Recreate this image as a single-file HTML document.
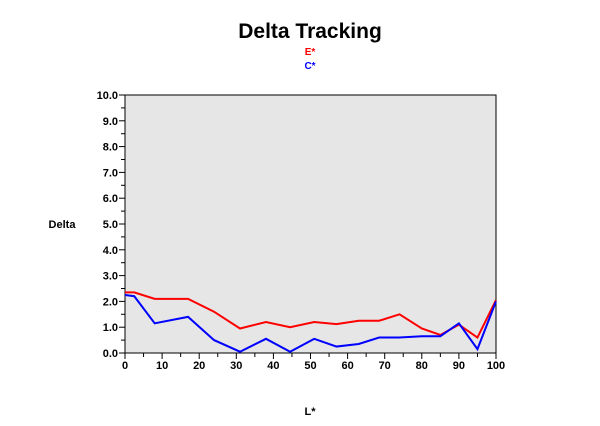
<!DOCTYPE html>
<html><head><meta charset="utf-8"><style>
body{margin:0;background:#fff;width:600px;height:421px;overflow:hidden}
svg{font-family:"Liberation Sans",Arial,sans-serif;font-weight:bold}
</style></head><body>
<svg width="600" height="421">
<text x="310" y="38" text-anchor="middle" font-size="21">Delta Tracking</text>
<text x="310" y="55" text-anchor="middle" font-size="10" fill="#ff0000">E*</text>
<text x="310" y="69" text-anchor="middle" font-size="10" fill="#0000ff">C*</text>
<rect x="125" y="95" width="371" height="258" fill="#e6e6e6" stroke="#000" stroke-width="1"/>
<g id="axes"></g>
<g id="series"></g>
<text x="62" y="228" text-anchor="middle" font-size="11">Delta</text>
<text x="310" y="415" text-anchor="middle" font-size="11">L*</text>
</svg>
<script>
const xVals=[0,2.5,8,17,24,31,38,44.5,51,57,63,68.5,74,80,85,90,95,100];
const eVals=[2.35,2.35,2.1,2.1,1.6,0.95,1.2,1.0,1.2,1.12,1.25,1.25,1.5,0.95,0.7,1.1,0.6,2.05];
const cVals=[2.25,2.2,1.15,1.4,0.5,0.05,0.55,0.05,0.55,0.25,0.35,0.6,0.6,0.65,0.65,1.15,0.15,2.0];
const yTicks=[0,1,2,3,4,5,6,7,8,9,10];
const xTicks=[0,10,20,30,40,50,60,70,80,90,100];
const NS="http://www.w3.org/2000/svg";
const X=v=>125+v*3.71, Y=v=>353-v*25.8;
const ax=document.getElementById('axes'), se=document.getElementById('series');
function mk(t,a,p){const e=document.createElementNS(NS,t);for(const k in a)e.setAttribute(k,a[k]);p.appendChild(e);return e;}
for(let i=0;i<=20;i++){const y=Y(i/2);const l=mk('line',{x1:125-(i%2?4:6),x2:125,y1:y,y2:y,stroke:'#000'},ax);

}
yTicks.forEach(v=>{const t=mk('text',{x:118,y:Y(v)+4,'text-anchor':'end','font-size':'11'},ax);t.textContent=v.toFixed(1);

});
for(let i=0;i<=20;i++){const x=X(i*5);const l=mk('line',{x1:x,x2:x,y1:353,y2:353+(i%2?4:6),stroke:'#000'},ax);

}
xTicks.forEach(v=>{const t=mk('text',{x:X(v),y:369,'text-anchor':'middle','font-size':'11'},ax);t.textContent=v;

});
function line(vals,col,name){const p=mk('polyline',{points:vals.map((v,i)=>X(xVals[i])+','+Y(v)).join(' '),fill:'none',stroke:col,'stroke-width':'2'},se);

}
line(eVals,'#ff0000','e-series-line');
line(cVals,'#0000ff','c-series-line');
</script>
</body></html>
